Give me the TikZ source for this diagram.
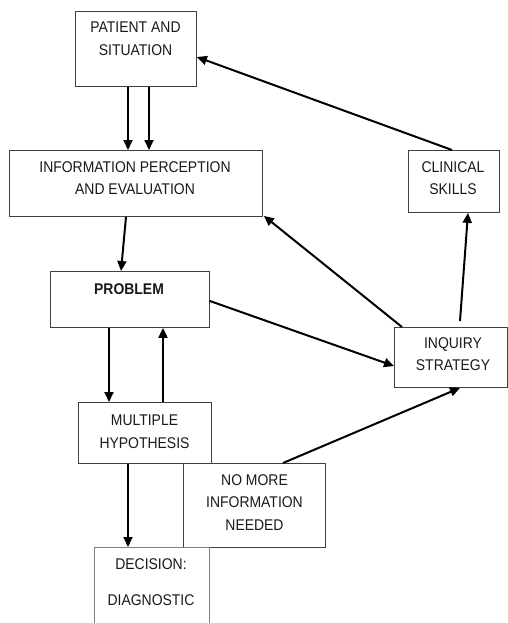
\documentclass[tikz,border=0pt]{standalone}
\usepackage{fontspec}
\setmainfont{Liberation Sans}
\usetikzlibrary{arrows.meta,calc}
\begin{document}
\begin{tikzpicture}[x=1pt,y=-1pt,
  box/.style={draw=black!75,line width=0.9pt,minimum width=#1,inner sep=0pt,anchor=north west},
  txt/.style={align=center,font=\fontsize{15.5}{22.5}\selectfont,inner sep=0pt,text=black!90,xscale=0.9,transform shape},
  arr/.style={line width=2pt,-{Triangle[length=10pt,width=9pt]}}]
\useasboundingbox (0,0) rectangle (508,623);
\clip (0,0) rectangle (508,623);
\node[box=121pt,minimum height=75pt] (pat) at (75,11) {};
\node[box=253pt,minimum height=66pt] (info) at (9,150) {};
\node[box=91pt,minimum height=62pt] (cli) at (408,150) {};
\node[box=159pt,minimum height=56pt] (prob) at (50,271) {};
\node[box=113pt,minimum height=60pt] (inq) at (394,327) {};
\node[box=133pt,minimum height=61pt] (mult) at (78,402) {};
\node[box=142pt,minimum height=84pt] (nomore) at (183,463) {};
\node[box=115pt,minimum height=100pt,draw=black!50] (dec) at (94,547) {};
\node[txt] (tpat) at (135.5,38.5) {PATIENT AND\\SITUATION};
\node[txt] (tinfo) at (135,178) {INFORMATION PERCEPTION\\AND EVALUATION};
\node[txt] (tcli) at (453,178) {CLINICAL\\SKILLS};
\node[txt,font=\fontsize{15.5}{22.5}\selectfont\bfseries] (tprob) at (129,289) {PROBLEM};
\node[txt] (tinq) at (453,354) {INQUIRY\\STRATEGY};
\node[txt] (tmult) at (144.5,431.5) {MULTIPLE\\HYPOTHESIS};
\node[txt] (tnomore) at (254.5,502.5) {NO MORE\\INFORMATION\\NEEDED};
\node[txt] (tdec1) at (151,564) {DECISION:};
\node[txt] (tdec2) at (151,600) {DIAGNOSTIC};
\draw[arr] ($(pat.south west)+(53,0)$) -- ($(info.north west)+(119,0)$);
\draw[arr] ($(pat.south west)+(74,0)$) -- ($(info.north west)+(140,0)$);
\draw[arr] ($(cli.north west)+(44,0)$) -- ($(pat.north east)+(0,46)$);
\draw[arr] ($(info.south west)+(117,0)$) -- ($(prob.north west)+(71,0)$);
\draw[arr] ($(inq.north west)+(8,0)$) -- ($(info.south east)+(1,-1)$);
\draw[arr] ($(inq.north west)+(66,-6)$) -- ($(cli.south west)+(60,0)$);
\draw[arr] ($(prob.north east)+(0,30)$) -- ($(inq.north west)+(0,39)$);
\draw[arr] ($(prob.south west)+(59,0)$) -- ($(mult.north west)+(31,0)$);
\draw[arr] ($(mult.north west)+(85,0)$) -- ($(prob.south west)+(113,0)$);
\draw[arr] ($(mult.south west)+(50,0)$) -- ($(dec.north west)+(34,0)$);
\draw[arr] ($(nomore.north west)+(100,0)$) -- ($(inq.south west)+(66,0)$);
\end{tikzpicture}
\end{document}
